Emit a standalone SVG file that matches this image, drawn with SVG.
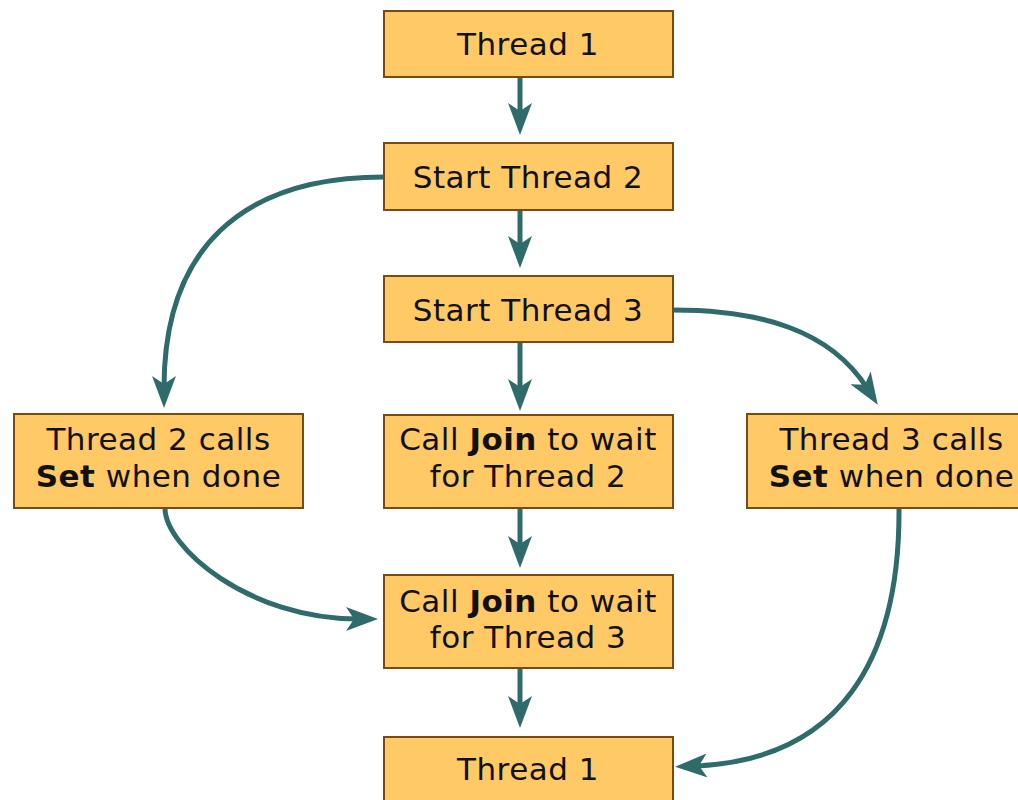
<svg xmlns="http://www.w3.org/2000/svg" width="1018" height="800" viewBox="0 0 1018 800">
<style>
.box{fill:#FFC966;stroke:#7A4A14;stroke-width:2}
.t{font-family:"DejaVu Sans","Verdana",sans-serif;font-size:31px;letter-spacing:0.5px;fill:#111;text-anchor:middle}
.b{font-weight:bold}
.c{fill:none;stroke:#2F6B6B;stroke-width:5;marker-end:url(#ah)}
</style>
<defs>
<marker id="ah" markerUnits="userSpaceOnUse" viewBox="0 -12 32 24" markerWidth="32" markerHeight="24" refX="12" refY="0" orient="auto">
<path d="M0,-12 L32,0 L0,12 L8,0 Z" fill="#2F6B6B"/>
</marker>
</defs>
<rect width="1018" height="800" fill="#fff"/>
<g id="connectors">
<path class="c" d="M520,77 L520,115"/>
<path class="c" d="M520,210 L520,248"/>
<path class="c" d="M520,342 L520,391"/>
<path class="c" d="M520,508 L520,548"/>
<path class="c" d="M520,668 L520,708"/>
<path class="c" d="M384,177 C240,177 164,250 164,388"/>
<path class="c" d="M673,310 C760,310 830,330 867,388"/>
<path class="c" d="M165,508 C165,547 248,619 358,619"/>
<path class="c" d="M899,508 C900,660 840,760 695,766"/>
</g>
<g id="n1"><rect class="box" x="384" y="11" width="289" height="66"/><text class="t" x="528" y="55">Thread 1</text></g>
<g id="n2"><rect class="box" x="384" y="143" width="289" height="67"/><text class="t" x="528" y="188">Start Thread 2</text></g>
<g id="n3"><rect class="box" x="384" y="276" width="289" height="66"/><text class="t" x="528" y="321">Start Thread 3</text></g>
<g id="n4"><rect class="box" x="14" y="414" width="289" height="94"/><text class="t" x="158.5" y="450">Thread 2 calls</text><text class="t" x="158.5" y="487"><tspan class="b">Set</tspan> when done</text></g>
<g id="n5"><rect class="box" x="384" y="415" width="289" height="93"/><text class="t" x="528" y="450">Call <tspan class="b">Join</tspan> to wait</text><text class="t" x="528" y="487">for Thread 2</text></g>
<g id="n6"><rect class="box" x="747" y="414" width="289" height="94"/><text class="t" x="891.5" y="450">Thread 3 calls</text><text class="t" x="891.5" y="487"><tspan class="b">Set</tspan> when done</text></g>
<g id="n7"><rect class="box" x="384" y="575" width="289" height="93"/><text class="t" x="528" y="612">Call <tspan class="b">Join</tspan> to wait</text><text class="t" x="528" y="648">for Thread 3</text></g>
<g id="n8"><rect class="box" x="384" y="737" width="289" height="66"/><text class="t" x="528" y="780">Thread 1</text></g>
</svg>
